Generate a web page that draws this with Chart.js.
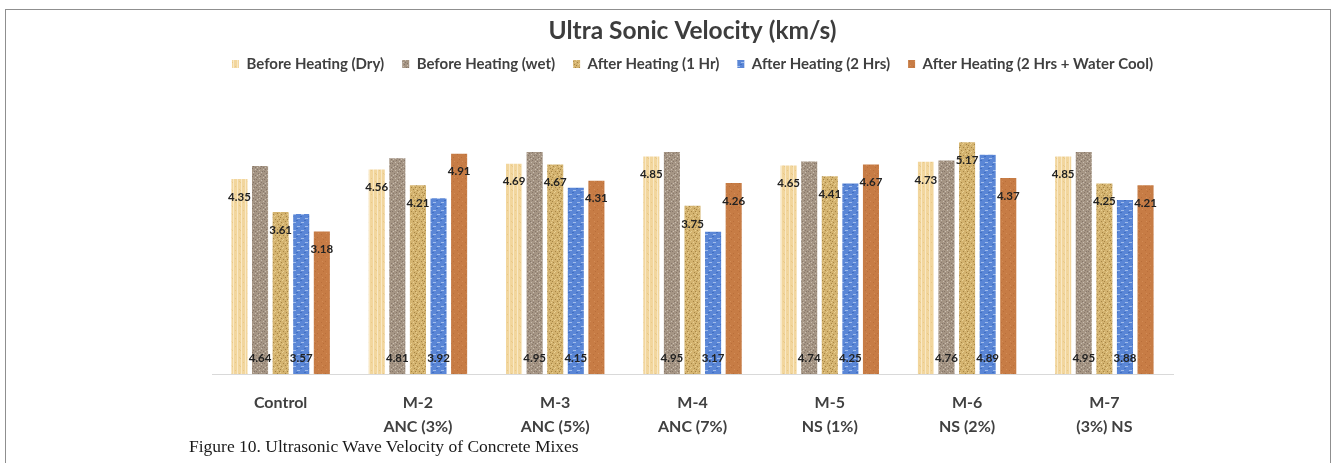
<!DOCTYPE html>
<html>
<head>
<meta charset="utf-8">
<script src="https://cdn.jsdelivr.net/npm/chart.js@4.4.1/dist/chart.umd.min.js"></script>
<style>
  html, body { margin: 0; padding: 0; background: #ffffff; }
  body { width: 1335px; height: 463px; position: relative; overflow: hidden; }
  #chart { position: absolute; left: 0; top: 0; }
  .rule { position: absolute; background: #8f8f8f; }
  #caption {
    position: absolute; left: 189px; top: 436px;
    font-family: "Liberation Serif", "DejaVu Serif", serif;
    font-size: 17.5px; color: #1a1a1a; white-space: nowrap;
  }
</style>
</head>
<body>
<div class="rule" style="left:5px; top:9px; width:1326px; height:1px;"></div>
<div class="rule" style="left:5px; top:9px; width:1px; height:454px;"></div>
<div class="rule" style="left:1330px; top:9px; width:1px; height:454px;"></div>
<canvas id="chart" width="1335" height="463"></canvas>
<div id="caption">Figure 10. Ultrasonic Wave Velocity of Concrete Mixes</div>

<script>
// Mixes (two-line category labels)
const mixes = [
  ['Control'],
  ['M-2', 'ANC (3%)'],
  ['M-3', 'ANC (5%)'],
  ['M-4', 'ANC (7%)'],
  ['M-5', 'NS (1%)'],
  ['M-6', 'NS (2%)'],
  ['M-7', '(3%) NS']
];

const seriesNames = [
  'Before Heating (Dry)',
  'Before Heating (wet)',
  'After Heating (1 Hr)',
  'After Heating (2 Hrs)',
  'After Heating (2 Hrs + Water Cool)'
];

// Pulse velocity, km/s
const beforeDry   = [4.35, 4.56, 4.69, 4.85, 4.65, 4.73, 4.85];
const beforeWet   = [4.64, 4.81, 4.95, 4.95, 4.74, 4.76, 4.95];
const after1Hr    = [3.61, 4.21, 4.67, 3.75, 4.41, 5.17, 4.25];
const after2Hrs   = [3.57, 3.92, 4.15, 3.17, 4.25, 4.89, 3.88];
const after2HrsWC = [3.18, 4.91, 4.31, 4.26, 4.67, 4.37, 4.21];

// Textured fills for the bars
function texture(base, marks) {
  const c = document.createElement('canvas');
  c.width = 8; c.height = 8;
  const g = c.getContext('2d');
  g.fillStyle = base;
  g.fillRect(0, 0, 8, 8);
  marks.forEach(([color, pts]) => {
    g.fillStyle = color;
    pts.forEach(([x, y, w, h]) => g.fillRect(x, y, w || 1, h || 1));
  });
  return g.createPattern(c, 'repeat');
}

const fillDry = texture('#F2D69D', [
  ['#F9E8C4', [[1, 0, 1, 8], [5, 0, 1, 8]]],
  ['#E8C888', [[3, 2, 1, 1], [7, 5, 1, 1], [0, 6, 1, 1]]]
]);
const fillWet = texture('#A59584', [
  ['#86766A', [[1, 1], [4, 0], [6, 3], [2, 5], [5, 6], [0, 3], [7, 7]]],
  ['#C9BDB0', [[3, 2], [7, 1], [1, 7], [5, 4], [3, 6]]]
]);
const fill1Hr = texture('#D4B36F', [
  ['#A58444', [[0, 1], [3, 3], [6, 0], [5, 5], [1, 6], [7, 3]]],
  ['#E8CF92', [[2, 0], [5, 2], [0, 4], [3, 7], [7, 6]]]
]);
const fill2Hrs = texture('#5A86D6', [
  ['#A2BDEB', [[1, 2, 3, 1], [5, 6, 3, 1]]],
  ['#4270C2', [[0, 4, 2, 1], [4, 0, 2, 1]]]
]);
const fillWC = texture('#C77C45', [
  ['#B96E3A', [[1, 2], [5, 5], [3, 7]]],
  ['#D38D58', [[6, 1], [2, 5]]]
]);

const fills = [fillDry, fillWet, fill1Hr, fill2Hrs, fillWC];
const values = [beforeDry, beforeWet, after1Hr, after2Hrs, after2HrsWC];

// Value labels: 1st, 3rd and 5th series just under the bar top,
// 2nd and 4th series near the bar base
const valueLabels = {
  id: 'valueLabels',
  afterDatasetsDraw(chart) {
    const ctx = chart.ctx;
    ctx.save();
    ctx.font = 'bold 11.5px Lato, "DejaVu Sans", sans-serif';
    ctx.textAlign = 'center';
    ctx.textBaseline = 'middle';
    ctx.fillStyle = '#222222';
    chart.data.datasets.forEach((ds, di) => {
      const meta = chart.getDatasetMeta(di);
      meta.data.forEach((bar, i) => {
        const txt = ds.data[i].toFixed(2);
        const y = (di % 2 === 1) ? bar.base - 16 : bar.y + 18;
        ctx.fillText(txt, bar.x, y);
      });
    });
    ctx.restore();
  }
};

// Extra space between legend and plot
const legendGap = {
  id: 'legendGap',
  beforeInit(chart) {
    const fit = chart.legend.fit;
    chart.legend.fit = function () {
      fit.call(this);
      this.height += 23.5;
    };
  }
};

// Invisible value axes that reserve the side margins of the plot
const sideAxis = (position) => ({
  position,
  display: true,
  min: 0,
  max: 6,
  ticks: { display: false },
  grid: { display: false, drawTicks: false },
  border: { display: false },
  afterFit(scale) { scale.width = 160; }
});

new Chart(document.getElementById('chart'), {
  type: 'bar',
  data: {
    labels: mixes,
    datasets: seriesNames.map((name, k) => ({
      label: name,
      data: values[k],
      backgroundColor: fills[k],
      borderWidth: 0,
      yAxisID: 'y',
      categoryPercentage: 0.75,
      barPercentage: 0.78
    }))
  },
  options: {
    responsive: false,
    animation: false,
    devicePixelRatio: 1,
    layout: { padding: { left: 52, right: 2, top: 6, bottom: 7 } },
    plugins: {
      title: {
        display: true,
        text: 'Ultra Sonic Velocity (km/s)',
        color: '#3d3d3d',
        font: { family: 'Lato', weight: 'bold', size: 24.5 },
        padding: { top: 10, bottom: -7 }
      },
      legend: {
        display: true,
        position: 'top',
        labels: {
          boxWidth: 7,
          boxHeight: 8,
          padding: 18,
          color: '#404040',
          font: { family: 'Lato', weight: 'bold', size: 15 }
        }
      },
      tooltip: { enabled: false }
    },
    scales: {
      x: {
        grid: { display: false, drawTicks: false },
        border: { display: true, color: '#d9d9d9', width: 1 },
        ticks: {
          padding: 17,
          color: '#404040',
          font: { family: 'Lato', weight: 'bold', size: 16, lineHeight: 1.5 },
          maxRotation: 0,
          autoSkip: false
        }
      },
      y: sideAxis('left'),
      yRight: sideAxis('right')
    }
  },
  plugins: [valueLabels, legendGap]
});
</script>
</body>
</html>
